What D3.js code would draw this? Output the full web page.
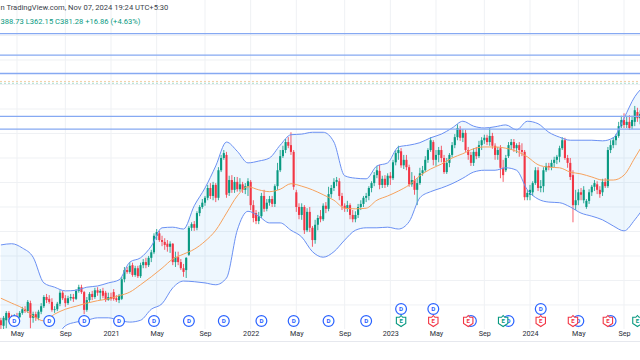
<!DOCTYPE html>
<html><head><meta charset="utf-8">
<script src="https://cdn.jsdelivr.net/npm/d3@7/dist/d3.min.js"></script>
<style>html,body{margin:0;padding:0;background:#fff;}svg{display:block;}</style>
</head><body>
<svg id="c" width="640" height="360"></svg>
<script>
// ---------- DATA (weekly bars, first bar = week of 2020-03-23) ----------
const firstWeek = "2020-03-23";
const opens = [
55,46,55,67,59,55,62,60,67,73,
70,83,59,65,59,69,78,93,90,85,
72,73,82,100,91,83,91,93,90,103,
109,101,72,88,98,93,104,100,103,100,
88,93,101,91,88,90,122,137,134,145,
129,140,127,145,150,145,157,166,193,197,
186,183,180,175,180,150,158,150,140,137,
162,206,212,206,230,240,247,255,271,258,
276,255,300,320,325,263,284,268,281,269,
277,268,274,281,243,230,217,225,258,237,
247,253,245,274,300,323,333,346,341,330,
264,240,227,240,202,232,206,186,211,225,
220,242,237,261,271,281,282,258,242,238,
243,227,220,227,240,245,255,258,271,279,
292,299,276,286,276,291,287,313,328,331,
308,317,305,277,284,268,279,295,300,317,
333,346,317,325,333,320,297,312,325,341,
354,367,353,361,333,325,312,330,323,341,
349,353,346,356,340,325,336,304,300,323,
341,346,336,341,333,330,256,260,264,279,
300,271,274,300,307,305,312,317,322,336,
349,320,312,292,243,251,264,251,240,250,
264,273,277,268,264,281,274,333,341,349,
356,372,382,374,379,372,379,395,385,392,
375,366];
const highs = [
59,62,70,70,64,65,67,70,77,78,
88,87,69,69,72,83,96,98,96,91,
78,85,104,103,96,95,98,98,106,113,
113,103,93,101,103,108,109,106,108,103,
100,100,106,96,98,126,142,142,150,149,
144,144,149,155,157,160,170,197,204,201,
193,189,186,184,181,167,167,155,147,158,
209,215,217,233,243,253,258,276,279,281,
279,305,325,333,330,291,292,289,289,287,
281,279,287,284,251,235,232,263,268,253,
258,258,277,312,333,340,351,354,362,333,
268,246,246,243,238,240,209,219,227,235,
246,248,273,276,287,289,287,263,246,250,
246,235,233,245,251,258,263,274,282,297,
307,309,291,292,295,297,317,333,340,336,
325,325,309,297,291,287,304,307,323,336,
354,349,333,338,340,325,320,328,346,359,
375,372,367,366,338,330,336,338,348,354,
358,358,369,361,344,338,341,317,325,346,
351,351,344,346,344,333,268,276,282,305,
305,284,305,312,312,317,322,325,340,354,
353,325,320,300,268,269,271,274,253,269,
276,284,282,274,286,287,338,349,354,359,
379,389,393,389,390,389,405,402,398,397,
385,388.73];
const lows = [
39,39,42,52,49,52,55,59,64,67,
67,42,51,54,55,65,75,83,82,69,
67,70,78,88,77,80,87,85,88,100,
98,65,69,85,88,90,95,88,91,85,
87,87,87,85,83,88,117,131,131,126,
126,124,124,140,140,142,150,163,186,183,
176,170,167,165,145,142,145,137,126,124,
160,201,201,202,225,237,242,251,253,251,
248,251,297,317,255,258,263,263,265,265,
263,261,258,235,215,212,212,222,232,233,
242,240,240,268,297,320,328,336,325,268,
232,220,219,196,199,199,175,180,202,215,
217,230,233,255,266,274,251,235,232,232,
220,215,215,222,235,240,248,251,264,274,
287,269,271,271,273,276,284,308,317,304,
302,300,273,273,260,243,276,291,297,312,
330,308,307,313,313,294,294,305,321,336,
349,348,346,330,317,307,307,318,320,333,
343,341,340,335,317,317,287,281,297,320,
333,330,328,322,323,251,251,251,258,276,
266,264,264,297,300,300,305,310,313,333,
317,304,284,215,235,243,251,246,237,245,
258,266,261,255,258,271,271,328,336,341,
353,369,369,369,366,367,372,379,375,371,
361,362.15];
const closes = [
47,59,67,59,55,62,59,67,73,70,
85,59,65,59,69,78,93,88,85,72,
73,82,100,91,83,91,93,90,103,109,
101,72,88,98,93,104,100,103,95,88,
93,90,90,88,95,122,137,134,144,129,
140,127,145,150,145,157,166,193,199,186,
183,178,175,180,150,158,150,140,134,157,
206,212,206,230,240,247,255,271,258,276,
255,300,320,328,260,284,268,281,269,277,
268,274,282,243,222,217,225,258,237,247,
253,245,274,300,323,333,346,340,330,273,
240,227,240,202,232,206,186,211,222,220,
242,237,261,271,281,284,258,242,238,243,
227,220,227,240,245,255,258,271,279,292,
300,276,286,276,291,287,313,328,333,308,
317,305,277,284,268,279,295,300,317,333,
349,317,325,333,320,297,312,325,341,354,
369,353,361,333,325,312,330,323,341,349,
353,346,356,340,325,333,304,292,320,341,
346,336,341,333,330,256,263,268,279,300,
271,274,300,307,305,312,317,322,336,349,
320,312,289,243,251,264,260,268,250,264,
273,279,268,261,281,274,333,341,349,356,
372,382,374,379,369,382,398,385,392,375,
364.42,381.28];

// Bollinger Bands (20, 2) every 4 weeks from firstWeek
const bbUpper = [178,180,173,158,116,109,103,104,109,111,116,121,150,157,176,206,207,204,242,271,307,346,331,312,315,320,341,358,359,362,362,346,291,287,286,307,312,338,341,345,353,359,369,380,372,369,371,374,366,380,376,362,354,349,349,349,348,353,385,420,439];
const bbBasis = [91,83,75,62,54,65,73,78,83,87,90,95,101,113,126,140,155,163,171,184,202,230,258,273,268,265,269,278,274,268,260,251,238,237,238,251,258,266,276,291,302,310,320,327,335,338,338,336,331,322,309,305,304,297,294,289,284,284,292,320,349];
const bbLower = [12,8,5,3,8,22,46,52,55,59,59,55,52,55,73,82,108,119,118,116,113,124,202,233,225,214,214,202,191,167,158,167,186,202,206,206,207,204,216,255,265,271,278,287,297,300,300,304,300,268,253,248,247,240,230,225,219,209,201,219,243];

// horizontal drawn levels
const solidLevels = [523, 488, 458, 388, 367];
const dottedLevels = [445, 442];

// time-axis ticks
const tickDates = ["2020-05-04","2020-09-07","2021-01-04","2021-05-03","2021-09-06","2022-01-03","2022-05-02","2022-09-05","2023-01-02","2023-05-01","2023-09-04","2024-01-01","2024-05-06","2024-09-02"];
const tickLabels = ["May","Sep","2021","May","Sep","2022","May","Sep","2023","May","Sep","2024","May","Sep"];
const gridPrices = [40,80,120,160,200,240,280,320,360,400,440,480,520];

// events
const dividendDates = ["2020-04-27","2020-07-27","2020-10-26","2021-01-25","2021-04-26","2021-07-26","2021-10-25","2022-01-31","2022-04-25","2022-07-25","2022-10-31","2023-01-30","2023-04-24","2023-07-31","2023-11-06","2024-01-29","2024-05-06","2024-07-29"];
const earningsDates = ["2023-01-30","2023-04-24","2023-07-24","2023-10-23","2024-01-29","2024-04-22","2024-07-22","2024-10-07"];
const earningsResult = ["beat","miss","miss","beat","miss","miss","miss","beat"];

const headerLine1 = "n TradingView.com, Nov 07, 2024 19:24 UTC+5:30";
const headerLine2 = "388.73 L362.15 C381.28 +16.86 (+4.63%)";

// ---------- DRAW ----------
const svg = d3.select("#c");
const parse = d3.utcParse("%Y-%m-%d");
const x = d3.scaleUtc().domain([parse("2021-01-04"), parse("2024-01-01")]).range([111, 530]);
const y = d3.scaleLinear().domain([0, 400]).range([353.95, 109]);
const FONT = "Roboto, 'Noto Sans', sans-serif";
const UP = "#089981", DOWN = "#f23645";
const paneBottom = 329;

svg.append("rect").attr("width", 640).attr("height", 360).attr("fill", "#fff");
svg.append("defs").append("clipPath").attr("id", "pane")
  .append("rect").attr("x", 0).attr("y", 0).attr("width", 640).attr("height", paneBottom);
const pane = svg.append("g").attr("clip-path", "url(#pane)");

// grid
pane.selectAll("line.vg").data(tickDates).join("line").attr("class","vg")
  .attr("x1", d => x(parse(d))).attr("x2", d => x(parse(d)))
  .attr("y1", 0).attr("y2", paneBottom).attr("stroke", "#eff1f4").attr("stroke-width", 1);
pane.selectAll("line.hg").data(gridPrices).join("line").attr("class","hg")
  .attr("x1", 0).attr("x2", 640).attr("y1", d => y(d)).attr("y2", d => y(d))
  .attr("stroke", "#eff1f4").attr("stroke-width", 1);

// bands
const base = parse(firstWeek);
const bands = bbUpper.map((u, k) => ({ date: d3.utcDay.offset(base, 28 * k), u, m: bbBasis[k], l: bbLower[k] }));
pane.append("path").datum(bands)
  .attr("d", d3.area().x(d => x(d.date)).y0(d => y(d.l)).y1(d => y(d.u)).curve(d3.curveMonotoneX))
  .attr("fill", "rgba(33,150,243,0.075)");

// candles
const n = Math.min(opens.length, highs.length, lows.length, closes.length);
const candles = d3.range(n).map(k => ({ date: d3.utcDay.offset(base, 7 * k), o: opens[k], h: highs[k], l: lows[k], c: closes[k] }));
const cg = pane.append("g");
cg.selectAll("line").data(candles).join("line")
  .attr("x1", d => x(d.date)).attr("x2", d => x(d.date))
  .attr("y1", d => y(d.h)).attr("y2", d => y(d.l))
  .attr("stroke", d => d.c >= d.o ? UP : DOWN).attr("stroke-width", 0.8);
cg.selectAll("rect").data(candles).join("rect")
  .attr("x", d => x(d.date) - 1.05).attr("width", 2.1)
  .attr("y", d => y(Math.max(d.o, d.c)))
  .attr("height", d => Math.max(0.8, Math.abs(y(d.o) - y(d.c))))
  .attr("fill", d => d.c >= d.o ? UP : DOWN);

// band lines
const line = key => d3.line().x(d => x(d.date)).y(d => y(d[key])).curve(d3.curveMonotoneX);
pane.append("path").datum(bands).attr("d", line("u")).attr("fill","none").attr("stroke","#6a90f3").attr("stroke-width",1);
pane.append("path").datum(bands).attr("d", line("l")).attr("fill","none").attr("stroke","#6a90f3").attr("stroke-width",1);
pane.append("path").datum(bands).attr("d", line("m")).attr("fill","none").attr("stroke","#f7a25d").attr("stroke-width",1);

// horizontal levels
pane.selectAll("line.lvl").data(solidLevels).join("line").attr("class","lvl")
  .attr("x1", 0).attr("x2", 640).attr("y1", d => y(d)).attr("y2", d => y(d))
  .attr("stroke", "#86a9f2").attr("stroke-width", 1.3);
pane.selectAll("line.dl").data(dottedLevels).join("line").attr("class","dl")
  .attr("x1", 0).attr("x2", 640).attr("y1", d => y(d)).attr("y2", d => y(d))
  .attr("stroke", (d, i) => i === 0 ? "#f3cfa6" : "#a9dccd").attr("stroke-width", 1)
  .attr("stroke-dasharray", "2,2");

// event markers
const earnSet = new Set(earningsDates);
const mg = svg.append("g");
dividendDates.forEach(d => {
  const cx = x(parse(d)), cy = earnSet.has(d) ? 309 : 321;
  const g = mg.append("g").attr("transform", `translate(${cx},${cy})`);
  g.append("circle").attr("r", 5.4).attr("fill", "#fff").attr("stroke", "#2962ff").attr("stroke-width", 1.2);
  g.append("text").text("D").attr("text-anchor", "middle").attr("dy", "0.35em")
    .attr("font-family", FONT).attr("font-size", 6.2).attr("font-weight", 700).attr("fill", "#2962ff");
});
earningsDates.forEach((d, i) => {
  const col = earningsResult[i] === "beat" ? UP : DOWN;
  const g = mg.append("g").attr("transform", `translate(${x(parse(d))},321)`);
  g.append("path").attr("d", "M-4.7,-3.7 L-1.6,-3.7 L0,-5.5 L1.6,-3.7 L4.7,-3.7 L4.7,2.4 L0,5.5 L-4.7,2.4 Z")
    .attr("fill", "#fff").attr("stroke", col).attr("stroke-width", 1.1);
  g.append("text").text("E").attr("text-anchor", "middle").attr("y", 2.2)
    .attr("font-family", FONT).attr("font-size", 6).attr("font-weight", 700).attr("fill", col);
});

// time axis
const ax = svg.append("g").attr("transform", `translate(0,${paneBottom})`)
  .call(d3.axisBottom(x).tickValues(tickDates.map(parse)).tickSize(0).tickPadding(2.3)
    .tickFormat((d, i) => tickLabels[i]));
ax.select(".domain").remove();
ax.selectAll("text").attr("font-family", FONT).attr("font-size", 7.2).attr("fill", "#2a2e39");
svg.append("line").attr("x1", 0).attr("x2", 640).attr("y1", 341.5).attr("y2", 341.5)
  .attr("stroke", "#e6e8ee").attr("stroke-width", 1);

// header text
svg.append("text").attr("x", 0.5).attr("y", 9.6).text(headerLine1)
  .attr("font-family", FONT).attr("font-size", 7.6).attr("fill", "#3b3f4a");
svg.append("text").attr("x", 0.5).attr("y", 24.2).text(headerLine2)
  .attr("font-family", FONT).attr("font-size", 7.6).attr("fill", UP);
</script>
</body></html>
